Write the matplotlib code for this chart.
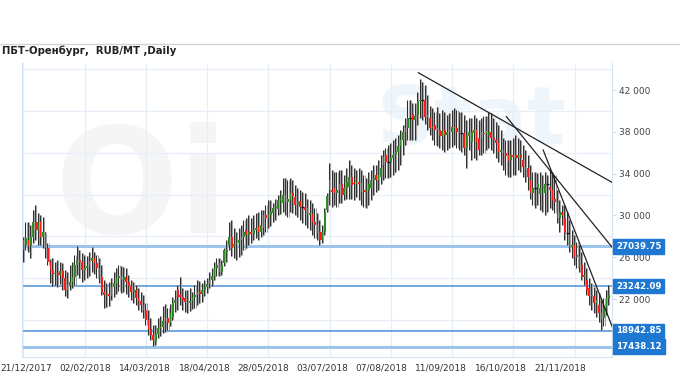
import matplotlib
matplotlib.use('Agg')
import matplotlib.pyplot as plt
import matplotlib.transforms as mtransforms
from matplotlib.lines import Line2D

plt.rcParams['font.family'] = ['DejaVu Sans']

title = 'ПБТ-Оренбург,  RUB/MT ,Daily'

# дневные свечи, 21/12/2017 .. ~20/12/2018 (RUB/MT)
opens = [
    26690, 27170, 27650, 27070, 27930, 29370, 28600, 29370, 27930, 28410,
    26880, 25540, 24780, 24390, 24490, 24300, 24680, 24010, 22860, 23340,
    23630, 24110, 25250, 25730, 25540, 24780, 24970, 25160, 25640, 25920,
    25450, 24970, 24110, 22670, 22380, 22480, 22290, 23150, 23530, 24010,
    24200, 23820, 24110, 23630, 23240, 22670, 22860, 22100, 21810, 21430,
    20950, 19990, 19130, 18560, 17890, 18650, 19220, 19320, 19890, 20180,
    19700, 20280, 21620, 22860, 22380, 22190, 22100, 21710, 21620, 21810,
    22190, 22380, 22670, 22480, 22860, 23150, 23440, 23820, 24200, 24970,
    25450, 24580, 25450, 26500, 27170, 27930, 27070, 27260, 27360, 27650,
    27930, 28600, 28120, 28410, 28220, 28600, 28990, 28410, 28790, 30040,
    29750, 30040, 30230, 30710, 30610, 31470, 31190, 31950, 31280, 31470,
    32140, 31760, 31000, 31380, 30800, 30800, 30710, 30040, 30130, 29370,
    29180, 28410, 27650, 28410, 30520, 33390, 32430, 32620, 32140, 32430,
    33010, 31950, 32620, 32720, 33680, 33100, 33010, 33200, 33100, 32430,
    32240, 32430, 32620, 33390, 33870, 33390, 33680, 34820, 35780, 35110,
    35110, 35490, 35780, 36070, 36640, 37220, 37980, 38360, 39320, 39700,
    39130, 39610, 40950, 41040, 41040, 39420, 39320, 38360, 38650, 38170,
    38170, 37600, 38170, 37700, 37980, 37980, 38460, 38360, 37980, 37890,
    37890, 36450, 37600, 37030, 37890, 38170, 37410, 37410, 37890, 37790,
    37700, 37980, 37410, 37220, 36930, 36070, 36260, 35970, 35780, 35300,
    35780, 35780, 35490, 35780, 35300, 34630, 34540, 33390, 32140, 32620,
    32620, 32050, 32620, 32140, 33010, 32720, 32430, 31570, 31190, 29750,
    30330, 29750, 28320, 28120, 26980, 27170, 26020, 26120, 25250, 24110,
    23820, 23050, 22290, 22290, 21620, 21430, 20660, 20180, 21140, 22100,
]
closes = [
    27650, 27840, 27070, 27930, 29370, 28600, 29370, 27930, 28410, 26880,
    25540, 24780, 24390, 24490, 24300, 24680, 24010, 22860, 23340, 23630,
    24110, 25250, 25730, 25540, 24780, 24970, 25160, 25640, 25920, 25450,
    24970, 24110, 22670, 22380, 22480, 22290, 23150, 23530, 24010, 24200,
    23820, 24110, 23630, 23240, 22670, 22860, 22100, 21810, 21430, 20950,
    19990, 19130, 18560, 18080, 18650, 19220, 19320, 19890, 20180, 19700,
    20660, 21620, 21900, 22190, 22190, 21900, 21710, 21620, 21810, 22190,
    22380, 22670, 22480, 22860, 23150, 23440, 23820, 24200, 24970, 25250,
    24580, 25250, 26690, 26690, 27930, 26880, 27260, 27360, 27650, 27930,
    28410, 28120, 28410, 28220, 28600, 28790, 28410, 29080, 30040, 29750,
    30040, 30330, 30710, 30800, 31470, 31570, 31950, 31280, 31570, 32140,
    31860, 31000, 31280, 30800, 30800, 30520, 30040, 30230, 29370, 29080,
    28320, 27650, 28410, 30330, 31860, 32430, 32240, 32140, 32430, 33010,
    31950, 32620, 33200, 33680, 32910, 33010, 33200, 33010, 32240, 32240,
    32430, 33010, 33390, 33580, 33390, 33870, 34540, 35590, 35110, 35110,
    35490, 35780, 36070, 36640, 37220, 37980, 38360, 39320, 39320, 39130,
    39510, 40950, 41040, 41040, 39420, 39610, 38360, 38460, 38170, 38360,
    37600, 38080, 37700, 37980, 38170, 38460, 38360, 37980, 37890, 37890,
    36450, 37600, 37980, 37980, 38170, 37030, 36260, 37980, 37790, 38080,
    37980, 37410, 37220, 36930, 36070, 36260, 35970, 35690, 35210, 35780,
    35590, 35490, 35780, 35490, 34630, 34350, 33680, 32140, 32620, 32620,
    33010, 32620, 32720, 33010, 33010, 32430, 31470, 31280, 29750, 30330,
    30040, 28320, 28320, 26980, 27170, 26020, 26210, 25060, 24110, 24300,
    22860, 22290, 22380, 21620, 21900, 20660, 19990, 21140, 22100, 22380,
]
highs = [
    27930, 29370, 29370, 29080, 30520, 31000, 30230, 30040, 29850, 28410,
    27360, 25830, 25920, 25540, 25730, 25540, 25450, 24780, 24580, 25250,
    25540, 26210, 27070, 26690, 26400, 26210, 26120, 26500, 26980, 26500,
    26210, 25920, 25250, 23820, 23530, 23630, 24010, 24580, 24970, 25250,
    25160, 25060, 24970, 24300, 23820, 23630, 23340, 23050, 22670, 22380,
    21620, 20950, 20180, 19510, 19510, 20180, 20370, 21330, 21520, 21140,
    21520, 22190, 22860, 23340, 24110, 23050, 22860, 22860, 23050, 22670,
    23340, 23820, 23720, 23530, 23820, 24010, 24580, 24970, 25540, 25920,
    25920, 25730, 26880, 27650, 29370, 29560, 28790, 28410, 28790, 29080,
    29560, 29750, 30040, 29750, 30040, 30230, 30330, 30520, 30520, 31000,
    31470, 31470, 31190, 31570, 31950, 32430, 33580, 33580, 33390, 33580,
    33390, 32910, 32620, 32430, 32240, 32140, 31570, 31470, 31190, 30710,
    30230, 29560, 29080, 30710, 32140, 35020, 34350, 34150, 34150, 34350,
    34350, 33870, 34540, 35300, 34820, 34540, 34350, 34540, 34350, 33870,
    33580, 34150, 34350, 34820, 34820, 35300, 35780, 36260, 36450, 36740,
    36930, 37220, 37410, 37700, 38170, 38650, 39320, 41040, 41040, 40760,
    40760, 41810, 43050, 42770, 42480, 41520, 40470, 40280, 39900, 40370,
    39800, 40090, 39900, 39610, 39800, 40090, 40280, 40090, 39900, 39900,
    39610, 39130, 39320, 39320, 39610, 39320, 39130, 39320, 39510, 39510,
    39900, 39800, 39320, 38940, 38650, 38170, 37410, 37220, 37220, 37220,
    37410, 37700, 37410, 37220, 36740, 36260, 35780, 34820, 34150, 34150,
    34060, 34150, 33870, 34150, 33870, 34350, 34150, 33870, 32430, 31470,
    31000, 31000, 30330, 29560, 28600, 28120, 27460, 27170, 26500, 25540,
    24970, 24010, 23530, 23150, 22860, 22570, 21900, 22100, 22860, 23340,
]
lows = [
    25540, 26690, 26500, 25920, 27360, 27650, 27170, 27170, 26880, 25920,
    25250, 23530, 23240, 23340, 23150, 23440, 22860, 22290, 22100, 22860,
    23050, 23340, 24300, 24010, 23630, 23820, 24010, 24200, 24580, 24390,
    24010, 23530, 22380, 21140, 21230, 21330, 21900, 22190, 22480, 22770,
    22570, 22670, 22480, 22190, 21900, 21620, 21430, 20950, 20760, 20180,
    19510, 18560, 18080, 17500, 17600, 18270, 18460, 18750, 18840, 19030,
    19420, 19990, 20760, 20950, 21430, 20950, 20760, 20660, 20850, 21040,
    21140, 21430, 21620, 21710, 22290, 22570, 23050, 23240, 23820, 24200,
    24200, 24300, 25160, 25540, 26690, 26120, 25920, 25730, 26020, 26210,
    26690, 26880, 27170, 27360, 27650, 27840, 27650, 27930, 28120, 28410,
    28790, 28990, 29370, 29560, 30040, 30130, 30330, 30040, 29850, 30330,
    30230, 30040, 29850, 29560, 29270, 29080, 28790, 28600, 28120, 27840,
    27650, 27170, 27360, 28120, 30330, 31000, 30800, 31000, 30800, 31190,
    31190, 31470, 31570, 31570, 31570, 31470, 31760, 31470, 31000, 30800,
    30710, 31000, 31470, 31950, 32240, 32430, 33010, 33390, 33580, 33580,
    33680, 33870, 34150, 34350, 34820, 35780, 36740, 37220, 37220, 37220,
    37220, 38650, 39320, 39130, 38750, 38170, 37700, 37220, 36740, 36640,
    36450, 36260, 36070, 36260, 36450, 36550, 36740, 36450, 36260, 36070,
    35780, 34540, 36260, 35300, 35490, 35300, 35780, 35780, 35970, 36260,
    36450, 36260, 35970, 35490, 35110, 34820, 34350, 33870, 33680, 33680,
    33870, 33870, 34350, 34150, 33680, 33200, 32430, 31570, 31000, 30710,
    31000, 30520, 30330, 30040, 30330, 30710, 30520, 30230, 29270, 28410,
    29080, 27650, 27170, 26500, 25920, 25250, 24970, 24580, 23820, 23340,
    22380, 21430, 20950, 20660, 20280, 19800, 19030, 19420, 20470, 21430,
]

date_labels = ['21/12/2017', '02/02/2018', '14/03/2018', '18/04/2018', '28/05/2018',
               '03/07/2018', '07/08/2018', '11/09/2018', '16/10/2018', '21/11/2018']
y_ticks = [22000, 26000, 30000, 34000, 38000, 42000]

# горизонтальные уровни
levels = [27039.75, 23242.09, 18942.85, 17438.12]
level_wide = [True, False, False, True]

# трендовые линии: (бар, цена) -> (бар, цена)
trend_x = [[161.2, 241.0], [197.2, 240.9], [212.2, 240.8]]
trend_y = [[43660, 33070], [39450, 26790], [36260, 19100]]

n = len(closes)
xs = list(range(n))

fig = plt.figure(figsize=(6.8, 3.8), dpi=100)
ax = fig.add_axes([22 / 680, 23 / 380, 590 / 680, 294 / 380])
ax.set_xlim(-0.6, 240.3)
ax.set_ylim(16450, 44585)

# водяной знак
ax.text(0.055, 0.56, 'Oi', transform=ax.transAxes, fontsize=105, fontweight='bold',
        color='#f5f5f5', va='center', zorder=0)
ax.text(0.60, 0.80, 'Stat', transform=ax.transAxes, fontsize=58, fontweight='bold',
        color='#eef5fb', va='center', zorder=0)

# сетка
for k in range(0, 226, 25):
    ax.axvline(k, color='#e6eef7', lw=0.9, zorder=1)
for v in range(20000, 44001, 4000):
    ax.axhline(v, color='#e6eef7', lw=0.9, zorder=1)

# свечи
ax.vlines([x - 0.2 for x in xs], lows, highs, color='#2a2a2a', lw=0.75, zorder=3)
ax.vlines([x + 0.25 for x in xs], lows, highs, color='#a3a3a3', lw=0.8, zorder=3)
for x, o, c in zip(xs, opens, closes):
    if c > o:
        ax.bar(x, c - o, bottom=o, width=0.7, color='#2e8b1f', zorder=4, linewidth=0)
    elif c < o:
        ax.bar(x, o - c, bottom=c, width=0.7, color='#ff1a1a', zorder=4, linewidth=0)
    else:
        ax.hlines(c, x - 0.6, x + 0.6, color='#111111', lw=0.9, zorder=4)

# уровни и подписи справа
trans = mtransforms.blended_transform_factory(ax.transAxes, ax.transData)
for lv, wide in zip(levels, level_wide):
    if wide:
        ax.axhline(lv, color='#9dc4ea', lw=2.2, zorder=2)
    else:
        ax.axhline(lv, color='#4a8fd8', lw=1.1, zorder=2)
    ax.text(1.007, lv, f'{lv:.2f}', transform=trans, ha='left', va='center',
            fontsize=6.2, fontweight='bold', color='white', clip_on=False, zorder=6,
            bbox=dict(boxstyle='square,pad=0.32', fc='#1e78d2', ec='#1e78d2'))

for tx, ty in zip(trend_x, trend_y):
    ax.plot(tx, ty, color='#222222', lw=0.9, zorder=5)

# оси
ax.yaxis.tick_right()
ax.set_yticks(y_ticks)
ax.set_yticklabels([f'{v:,}'.replace(',', ' ') for v in y_ticks])
ax.tick_params(axis='y', length=3, color='#cfdff0', labelsize=6.5, labelcolor='#444444', pad=2)

label_pos = [1, 25, 49.5, 74, 98, 122, 146, 170.5, 195, 219]
ax.set_xticks(label_pos)
ax.set_xticklabels(date_labels)
ax.tick_params(axis='x', length=0, labelsize=6.5, labelcolor='#333333', pad=5)

for s in ['left', 'right', 'bottom']:
    ax.spines[s].set_color('#d6e4f2')
ax.spines['top'].set_visible(False)

# шапка
fig.add_artist(Line2D([0, 1], [1 - 44 / 380] * 2, color='#d4d4d4', lw=1))
fig.text(2 / 680, 1 - 51 / 380, title, fontsize=7.3, fontweight='bold',
         color='#222222', va='center')

fig.savefig('out.png', dpi=100)
